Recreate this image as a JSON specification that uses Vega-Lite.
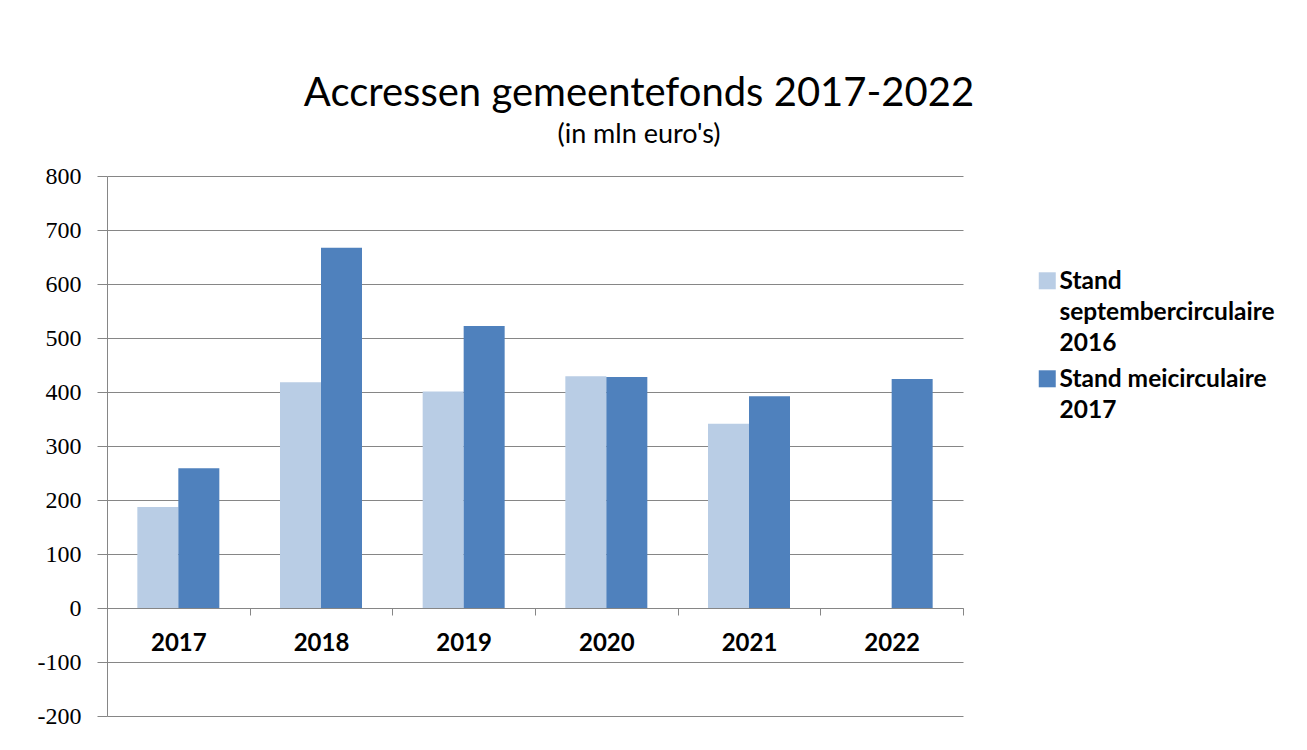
{
  "$schema": "https://vega.github.io/schema/vega-lite/v6.json",
  "width": 856,
  "height": 540,
  "autosize": {"type": "none"},
  "padding": {"left": 107, "top": 176, "right": 344, "bottom": 34},
  "background": "white",
  "title": {
    "text": "Accressen gemeentefonds 2017-2022",
    "subtitle": "(in mln euro's)",
    "anchor": "middle",
    "frame": "group",
    "dx": 104,
    "offset": 16,
    "font": "Lato",
    "fontSize": 40,
    "fontWeight": "normal",
    "color": "#000000",
    "subtitleFont": "Lato",
    "subtitleFontSize": 27,
    "subtitleColor": "#000000",
    "subtitlePadding": 8
  },
  "data": {
    "values": [
      {"jaar": "2017", "stand": "Stand septembercirculaire 2016", "waarde": 187},
      {"jaar": "2017", "stand": "Stand meicirculaire 2017", "waarde": 259},
      {"jaar": "2018", "stand": "Stand septembercirculaire 2016", "waarde": 418},
      {"jaar": "2018", "stand": "Stand meicirculaire 2017", "waarde": 667},
      {"jaar": "2019", "stand": "Stand septembercirculaire 2016", "waarde": 401},
      {"jaar": "2019", "stand": "Stand meicirculaire 2017", "waarde": 522},
      {"jaar": "2020", "stand": "Stand septembercirculaire 2016", "waarde": 429},
      {"jaar": "2020", "stand": "Stand meicirculaire 2017", "waarde": 428},
      {"jaar": "2021", "stand": "Stand septembercirculaire 2016", "waarde": 341},
      {"jaar": "2021", "stand": "Stand meicirculaire 2017", "waarde": 392},
      {"jaar": "2022", "stand": "Stand meicirculaire 2017", "waarde": 424}
    ]
  },
  "mark": {"type": "bar"},
  "encoding": {
    "x": {
      "field": "jaar",
      "type": "nominal",
      "scale": {"paddingInner": 0, "paddingOuter": 0},
      "axis": {
        "title": null,
        "orient": "bottom",
        "offset": -108,
        "labelAngle": 0,
        "tickBand": "extent",
        "tickSize": 7,
        "tickColor": "#868686",
        "domainColor": "#868686",
        "labelFont": "Lato",
        "labelFontWeight": "bold",
        "labelFontSize": 24,
        "labelPadding": 16,
        "labelColor": "#000000",
        "grid": false
      }
    },
    "xOffset": {
      "field": "stand",
      "type": "nominal",
      "sort": ["Stand septembercirculaire 2016", "Stand meicirculaire 2017"],
      "scale": {"domain": ["Stand septembercirculaire 2016", "Stand meicirculaire 2017"], "paddingInner": 0, "paddingOuter": 0.74}
    },
    "y": {
      "field": "waarde",
      "type": "quantitative",
      "scale": {"domain": [-200, 800], "nice": false, "zero": false},
      "axis": {
        "title": null,
        "values": [-200, -100, 0, 100, 200, 300, 400, 500, 600, 700, 800],
        "labelExpr": "'' + datum.value",
        "grid": true,
        "gridColor": "#868686",
        "domainColor": "#868686",
        "tickColor": "#868686",
        "tickSize": 10,
        "labelFont": "Liberation Serif",
        "labelFontSize": 24,
        "labelPadding": 16,
        "labelColor": "#000000"
      }
    },
    "color": {
      "field": "stand",
      "type": "nominal",
      "sort": ["Stand septembercirculaire 2016", "Stand meicirculaire 2017"],
      "scale": {"domain": ["Stand septembercirculaire 2016", "Stand meicirculaire 2017"], "range": ["#B9CDE5", "#4F81BD"]},
      "legend": {
        "orient": "none",
        "legendX": 928,
        "legendY": 82,
        "title": null,
        "padding": 0,
        "labelFont": "Lato",
        "labelFontWeight": "bold",
        "labelFontSize": 24.5,
        "labelLimit": 400,
        "labelBaseline": "top",
        "labelOffset": 0,
        "labelColor": "#000000",
        "symbolType": "M-1,0.24H1V2.24H-1Z",
        "symbolSize": 289,
        "symbolStrokeWidth": 0,
        "symbolOpacity": 1,
        "rowPadding": -30,
        "labelExpr": "datum.label == 'Stand septembercirculaire 2016' ? ['Stand', 'septembercirculaire', '2016'] : ['Stand meicirculaire', '2017']"
      }
    }
  },
  "config": {
    "view": {"stroke": null},
    "style": {"guide-label": {"lineHeight": 31}}
  }
}
